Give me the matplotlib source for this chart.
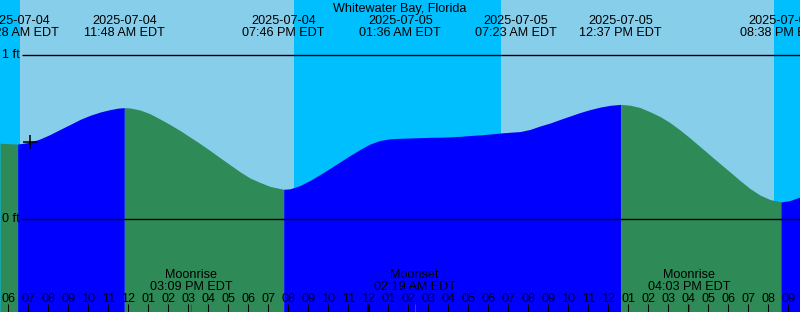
import matplotlib
matplotlib.use("Agg")
import matplotlib.pyplot as plt
import matplotlib.transforms as mtransforms
import numpy as np

# ---- data (hours since 2025-07-04 00:00 EDT, heights in ft) ----
tide_hours = [5.583, 6.083, 6.467, 7.083, 7.583, 8.083, 8.583, 9.083, 9.583, 10.083,
              10.583, 11.083, 11.483, 11.8, 12.083, 12.583, 13.083, 13.583, 14.083,
              14.583, 15.083, 15.583, 16.083, 16.583, 17.083, 17.583, 18.083, 18.583,
              19.083, 19.767, 20.083, 20.583, 21.083, 21.583, 22.083, 22.583, 23.083,
              23.583, 24.083, 24.583, 25.083, 25.583, 26.083, 26.583, 27.083, 27.583,
              28.083, 28.583, 29.083, 29.583, 30.083, 30.583, 31.083, 31.583, 32.083,
              32.583, 33.083, 33.583, 34.083, 34.583, 35.083, 35.583, 36.083, 36.617,
              37.083, 37.583, 38.083, 38.583, 39.083, 39.583, 40.083, 40.583, 41.083,
              41.583, 42.083, 42.583, 43.083, 43.583, 44.083, 44.633, 45.083, 45.583]
tide_ft = [0.462, 0.459, 0.457, 0.468, 0.488, 0.515, 0.546, 0.576, 0.607, 0.632,
           0.652, 0.667, 0.676, 0.679, 0.677, 0.665, 0.642, 0.610, 0.576,
           0.540, 0.500, 0.460, 0.418, 0.374, 0.331, 0.288, 0.250, 0.223,
           0.199, 0.181, 0.184, 0.204, 0.235, 0.271, 0.309, 0.348, 0.387,
           0.424, 0.457, 0.479, 0.489, 0.492, 0.494, 0.496, 0.498, 0.499,
           0.501, 0.504, 0.509, 0.513, 0.518, 0.524, 0.529, 0.533, 0.546,
           0.567, 0.585, 0.607, 0.628, 0.649, 0.667, 0.682, 0.693, 0.699,
           0.694, 0.680, 0.654, 0.625, 0.588, 0.543, 0.494, 0.442, 0.390,
           0.338, 0.287, 0.235, 0.186, 0.146, 0.119, 0.104, 0.113, 0.134]

event_hours = [6.467, 11.8, 19.767, 25.6, 31.383, 36.617, 44.633]
event_dates = ["2025-07-04", "2025-07-04", "2025-07-04", "2025-07-05",
               "2025-07-05", "2025-07-05", "2025-07-05"]
event_times = ["06:28 AM EDT", "11:48 AM EDT", "07:46 PM EDT", "01:36 AM EDT",
               "07:23 AM EDT", "12:37 PM EDT", "08:38 PM EDT"]

day_spans = [(6.583, 20.283), (30.633, 44.283)]

moon_hours = [15.15, 26.317, 40.05]
moon_names = ["Moonrise", "Moonset", "Moonrise"]
moon_times = ["03:09 PM EDT", "02:19 AM EDT", "04:03 PM EDT"]

tick_hours = list(range(6, 46))
tick_labels = ["%02d" % ((h % 12) or 12) for h in tick_hours]

now_hour = 7.083
now_ft = 0.470

title = "Whitewater Bay, Florida"
y_ticks_ft = [1, 0]
y_tick_labels = ["1 ft", "0 ft"]

# ---- layout ----
W, H = 800, 312
X0, X1 = 5.5833, 45.5833
Y0, Y1 = -93 / 164, 219 / 164

DAY = "#87CEEB"
NIGHT = "#00BFFF"
RISE = "#0000FF"
FALL = "#2E8B57"

plt.rcParams["font.family"] = ["Liberation Sans", "DejaVu Sans"]
FS = 9.1

fig = plt.figure(figsize=(W / 100, H / 100), dpi=100)
ax = fig.add_axes([0, 0, 1, 1])
ax.set_xlim(X0, X1)
ax.set_ylim(Y0, Y1)
ax.axis("off")
ax.axvspan(X0, X1, color=NIGHT, zorder=0, lw=0)
for a, b in day_spans:
    ax.axvspan(a, b, color=DAY, zorder=1, lw=0)

# water fill split into rising / falling runs
th = np.array(tide_hours)
tf = np.array(tide_ft)
rising = np.diff(tf) > 0
start = 0
for i in range(1, len(rising) + 1):
    if i == len(rising) or rising[i] != rising[start]:
        sl = slice(start, i + 1)
        ax.fill_between(th[sl], Y0, tf[sl], color=RISE if rising[start] else FALL,
                        lw=0, zorder=2, antialiased=True)
        start = i

def fx(px):
    return X0 + px / W * (X1 - X0)

def fy(px):
    return 1 - px / H

blend = mtransforms.blended_transform_factory(ax.transData, ax.transAxes)

# reference lines
for v, lab in zip(y_ticks_ft, y_tick_labels):
    ax.hlines(v, fx(22), X1, color="black", lw=1.0, zorder=4)
    ax.text(fx(20), v, lab, ha="right", va="center", fontsize=FS, zorder=5)

# current-time marker
ax.plot([now_hour], [now_ft], marker="+", color="black", ms=10, mew=1.1, zorder=6)

# title
ax.text(0.5, fy(12), title, transform=ax.transAxes, ha="center", va="baseline",
        fontsize=FS)

# tide event labels
for h, d, t in zip(event_hours, event_dates, event_times):
    ax.text(h, fy(23.5), d, transform=blend, ha="center", va="baseline", fontsize=FS)
    ax.text(h, fy(36), t, transform=blend, ha="center", va="baseline", fontsize=FS)

# hour ticks and labels
for h, lab in zip(tick_hours, tick_labels):
    lw = 3 if h % 24 == 0 else 1
    ax.vlines(h, 0, fy(304), transform=blend, color="black", lw=lw * 0.75, zorder=5)
    ax.text(h, fy(301.8), lab, transform=blend, ha="center", va="baseline",
            fontsize=FS, zorder=5)

# moon events
for h, n, t in zip(moon_hours, moon_names, moon_times):
    ax.vlines(h, 0, fy(304), transform=blend, color="red", lw=0.75, zorder=5)
    ax.text(h, fy(278.3), n, transform=blend, ha="center", va="baseline", fontsize=FS)
    ax.text(h, fy(290.2), t, transform=blend, ha="center", va="baseline", fontsize=FS)

fig.savefig("out.png", dpi=100)
